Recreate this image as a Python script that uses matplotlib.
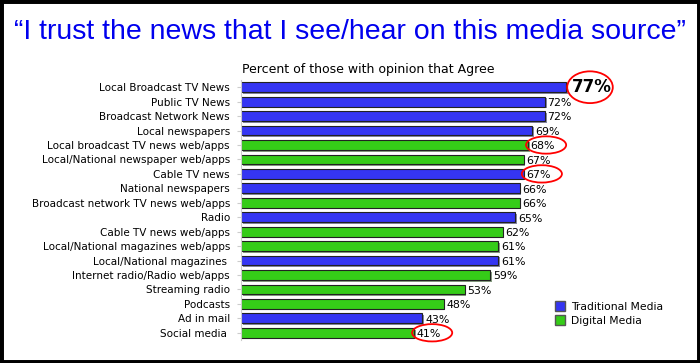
import matplotlib; matplotlib.use("Agg")
import matplotlib.pyplot as plt
import matplotlib.patheffects as pe
from matplotlib.patches import Ellipse, Rectangle, Patch

categories = ["Local Broadcast TV News", "Public TV News", "Broadcast Network News",
              "Local newspapers", "Local broadcast TV news web/apps",
              "Local/National newspaper web/apps", "Cable TV news", "National newspapers",
              "Broadcast network TV news web/apps", "Radio", "Cable TV news web/apps",
              "Local/National magazines web/apps", "Local/National magazines ",
              "Internet radio/Radio web/apps", "Streaming radio", "Podcasts",
              "Ad in mail", "Social media "]
values = [77, 72, 72, 69, 68, 67, 67, 66, 66, 65, 62, 61, 61, 59, 53, 48, 43, 41]
kind = ["T", "T", "T", "T", "D", "D", "T", "T", "D", "T", "D", "D", "T", "D", "D", "D", "T", "D"]
circled = [0, 4, 6, 17]

BLUE = "#3535f2"; GREEN = "#35cc18"
colors = [BLUE if k == "T" else GREEN for k in kind]
FS = 7.45

fig = plt.figure(figsize=(7, 3.63), dpi=100)
fig.patch.set_facecolor("white")
fig.add_artist(Rectangle((0, 0), 1, 1, transform=fig.transFigure, fill=False,
                         edgecolor="black", lw=5, zorder=10))
fig.text(0.5, 1 - 32/363, "\u201cI trust the news that I see/hear on this media source\u201d",
         ha="center", va="center", color="#0000ee", fontsize=20.5, family="Liberation Sans")
fig.text(368/700, 1 - 70/363, "Percent of those with opinion that Agree",
         ha="center", va="center", fontsize=9)

ax = fig.add_axes([241/700, 1 - 340/363, 422/700, 260/363])
y = list(range(len(categories)))
ax.barh(y, values, height=0.68, color=colors, edgecolor="#222222", lw=0.8,
        path_effects=[pe.SimplePatchShadow(offset=(1.2, -1.2), alpha=0.5), pe.Normal()])
ax.set_xlim(0, 100)
ax.set_ylim(len(categories) - 0.5, -0.5)
ax.set_yticks(y)
ax.set_yticklabels(categories, fontsize=FS)
ax.tick_params(axis="y", length=3, color="#cccccc", pad=5)
ax.set_xticks([])
for s in ["top", "right", "bottom"]:
    ax.spines[s].set_visible(False)
ax.spines["left"].set_color("#cccccc")

for i, v in enumerate(values):
    if i == 0:
        ax.annotate(f"{v}%", (v, i), xytext=(4, 0), textcoords="offset points",
                    va="center", fontsize=12, fontweight="bold")
    else:
        ax.annotate(f"{v}%", (v, i), xytext=(2, -1), textcoords="offset points",
                    va="center", fontsize=FS + 0.5)

for i in circled:
    if i == 0:
        e = Ellipse((values[i] + 5.7, i), 10.8, 2.2)
    else:
        e = Ellipse((values[i] + 4.3, i), 9.5, 1.2)
    e.set_fill(False); e.set_edgecolor("red"); e.set_linewidth(1.3); e.set_clip_on(False)
    ax.add_patch(e)

handles = [Patch(facecolor=BLUE, edgecolor="#555555", label="Traditional Media"),
           Patch(facecolor=GREEN, edgecolor="#555555", label="Digital Media")]
fig.legend(handles=handles, loc="upper left", bbox_to_anchor=(551/700, 1 - 297/363),
           frameon=False, fontsize=FS + 0.3, handlelength=0.9, handleheight=1.0,
           handletextpad=0.6, labelspacing=0.3, borderaxespad=0)

fig.savefig("out.png", dpi=100)
